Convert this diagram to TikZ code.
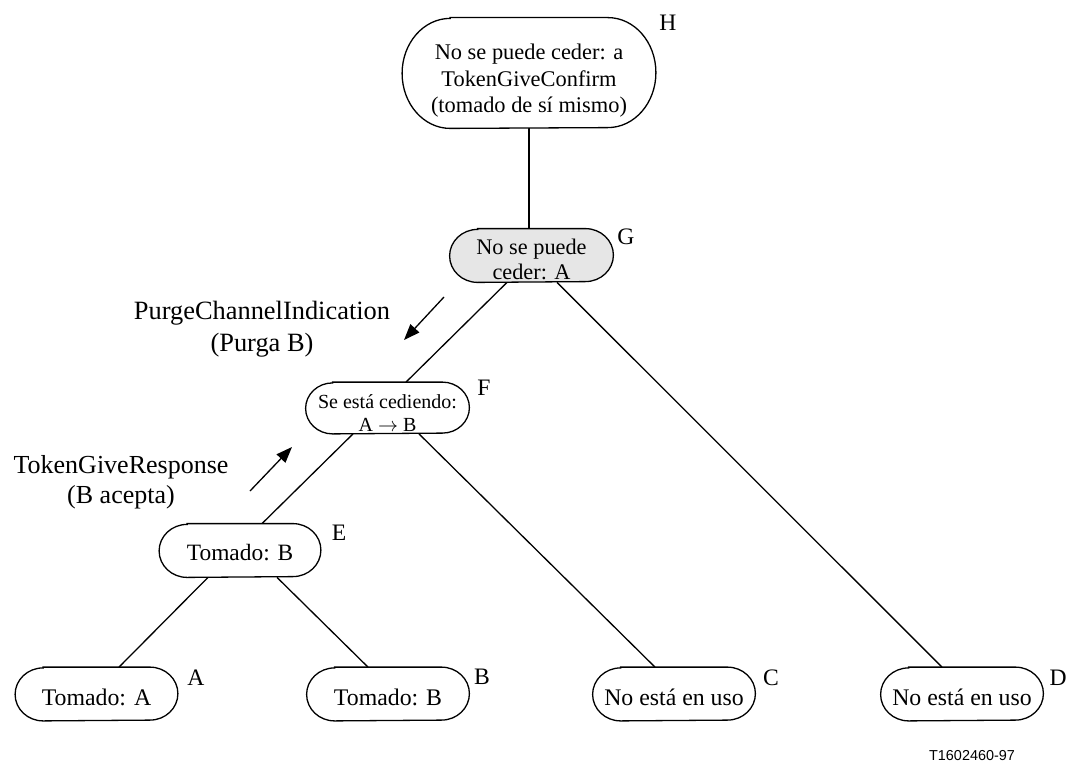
\documentclass[tikz,border=0pt]{standalone}
\usepackage{fontspec}
\setmainfont{Liberation Serif}
\newfontfamily\figsans{Liberation Sans}
\usetikzlibrary{arrows.meta,calc}

\definecolor{stategray}{RGB}{230,230,230}

% capsule outline around a named box: #2 node, #3 half height, #4 end radius
\newcommand\capsule[4][]{%
  \draw[capline,#1] ([xshift=#4]#2.north west) -- ([xshift=-#4]#2.north east)
    arc[start angle=90, end angle=-90, x radius=#4, y radius=#3]
    -- ([xshift=#4]#2.south west)
    arc[start angle=270, end angle=90, x radius=#4, y radius=#3] -- cycle;}

\tikzset{
  capline/.style={line width=0.65pt, fill=white},
  statebox/.style={shape=rectangle, inner sep=0pt, draw=none,
    minimum width=81pt, minimum height=26.5pt},
  statetext/.style={align=center, inner sep=0pt},
  tag/.style={font=\fontsize{11.8}{14}\selectfont, inner sep=0pt},
  branch/.style={line width=0.65pt},
  event/.style={line width=0.65pt, -{Triangle[length=8pt,width=6pt]}},
  eventtext/.style={align=center, inner sep=0pt}
}

\begin{document}
\begin{tikzpicture}[x=0.5pt, y=0.5pt]
\useasboundingbox (0,0) rectangle (1068,762);

% ---- state boxes ----
\node[statebox, minimum width=126.5pt, minimum height=55pt] (H) at (529,689) {};
\node[statebox, minimum width=81.5pt] (G) at (531.5,506.5) {};
\node[statebox, minimum width=81.5pt, minimum height=25.5pt] (F) at (387.5,354) {};
\node[statebox, minimum width=80.5pt] (E) at (240,211.5) {};
\node[statebox] (A) at (96.5,68) {};
\node[statebox] (B) at (388,68) {};
\node[statebox] (C) at (674,68) {};
\node[statebox] (D) at (962,68) {};

% ---- branches ----
\draw[branch] (H.south) -- (H.south |- G.north);
\draw[branch] ([xshift=-12.25pt]G.south) -- ([xshift=9.25pt]F.north);
\draw[branch] ([xshift=12.75pt]G.south) -- ([xshift=-10pt]D.north);
\draw[branch] ([xshift=-17.25pt]F.south) -- ([xshift=11pt]E.north);
\draw[branch] ([xshift=15.75pt]F.south) -- ([xshift=-9.5pt]C.north);
\draw[branch] ([xshift=-16pt]E.south) -- ([xshift=11.25pt]A.north);
\draw[branch] ([xshift=18.5pt]E.south) -- ([xshift=-10pt]B.north);

% ---- outlines ----
\capsule{H}{27.5pt}{24pt}
\capsule[fill=stategray]{G}{13.25pt}{14pt}
\capsule{F}{12.75pt}{13.5pt}
\capsule{E}{13.25pt}{14pt}
\capsule{A}{13.25pt}{14pt}
\capsule{B}{13.25pt}{14pt}
\capsule{C}{13.25pt}{14pt}
\capsule{D}{13.25pt}{14pt}

% ---- state texts ----
\node[statetext, font=\fontsize{11.2}{13.3}\selectfont] (Ht) at ([yshift=-4pt]H.center)
  {No se puede ceder: a\\TokenGiveConfirm\\(tomado de sí mismo)};
\node[statetext, font=\fontsize{11.15}{12.4}\selectfont] (Gt) at ([yshift=-2pt]G.center)
  {No se puede\\ceder: A};
\node[statetext, font=\fontsize{10}{11.2}\selectfont] (Ft) at ([yshift=-2.5pt]F.center)
  {Se está cediendo:\\A $\rightarrow$ B};
\node[statetext, font=\fontsize{11.7}{14}\selectfont] (Et) at ([yshift=-1pt]E.center) {Tomado: B};
\node[statetext, font=\fontsize{11.9}{14}\selectfont] (At) at ([yshift=-1.5pt]A.center) {Tomado: A};
\node[statetext, font=\fontsize{11.9}{14}\selectfont] (Bt) at ([yshift=-1.5pt]B.center) {Tomado: B};
\node[statetext, font=\fontsize{11.9}{14}\selectfont] (Ct) at ([yshift=-1.5pt]C.center) {No está en uso};
\node[statetext, font=\fontsize{11.9}{14}\selectfont] (Dt) at ([yshift=-1.5pt]D.center) {No está en uso};

% ---- state tags ----
\node[tag] (tH) at (668,739) {H};
\node[tag] (tG) at (626,525) {G};
\node[tag] (tF) at (484,374) {F};
\node[tag] (tE) at (339,229) {E};
\node[tag] (tA) at (196,84) {A};
\node[tag] (tB) at (482,85) {B};
\node[tag] (tC) at (771,84) {C};
\node[tag] (tD) at (1058,84) {D};

% ---- events ----
\node[eventtext, font=\fontsize{13.2}{16}\selectfont] (purge) at (262,433)
  {PurgeChannelIndication\\(Purga B)};
\coordinate (purgeFrom) at (444,465);
\coordinate (purgeTo) at (404,422);
\draw[event] (purgeFrom) -- (purgeTo);

\node[eventtext, font=\fontsize{13}{15.2}\selectfont] (give) at (121,280)
  {TokenGiveResponse\\(B acepta)};
\coordinate (giveFrom) at (250,271);
\coordinate (giveTo) at (292,315);
\draw[event] (giveFrom) -- (giveTo);

% ---- figure reference ----
\node[inner sep=0pt, anchor=base, font=\figsans\fontsize{7.2}{8}\selectfont] (ref) at (972,2) {T1602460-97};
\end{tikzpicture}
\end{document}
